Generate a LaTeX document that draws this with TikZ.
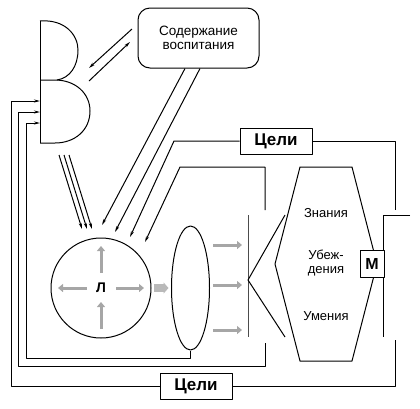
\documentclass[tikz,border=0pt]{standalone}
\usepackage{fontspec}
\setmainfont{Liberation Sans}
\usetikzlibrary{arrows.meta,shapes.geometric}
\def\thinarrow{\draw[-{Stealth[length=6pt,width=3pt]}]}
\def\grayarrow{\draw[color=gray!70, line width=3pt, -{Triangle[length=5pt,width=8pt]}]}
\def\goalnode{\node[draw,fill=white,font=\bfseries\fontsize{17}{17}\selectfont,minimum width=72pt,minimum height=26pt,inner sep=0pt]}

\begin{document}
\begin{tikzpicture}[x=1pt,y=-1pt,line width=1pt,line join=round]
\useasboundingbox (0,0) rectangle (420,408);
% boxes and shapes
\node[draw,rounded corners=12pt,minimum width=121pt,minimum height=60pt,align=center,font=\fontsize{13.5}{13.5}\selectfont] (content) at (198.5,38) {Содержание\\воспитания};
\goalnode (goaltop) at (276,141) {Цели};
\goalnode (goalbot) at (196,386.5) {Цели};
\node[draw,circle,minimum size=100pt,inner sep=0pt,font=\bfseries\fontsize{14}{14}\selectfont] (lich) at (101,288) {Л};
\node[draw,ellipse,minimum width=38pt,minimum height=124pt,inner sep=0pt] (oval) at (190.5,288) {};
\draw (40,21) -- (40,143);
\draw (40,21) .. controls (65,19) and (78,35) .. (78,50) .. controls (78,66) and (70,78) .. (57,80);
\draw (40,80) -- (55,80) .. controls (75,80) and (90,93) .. (90,111) .. controls (90,130) and (75,143) .. (55,143) -- (40,143);
\draw (300,167) -- (352,167) -- (377,264) -- (352,361) -- (300,361) -- (275,264) -- cycle;
\node[font=\fontsize{13}{13.5}\selectfont] (znan) at (326,213) {Знания};
\node[font=\fontsize{13}{13.5}\selectfont,align=center] (ubezh) at (326,263) {Убеж-\\дения};
\node[font=\fontsize{13}{13.5}\selectfont] (umen) at (326,316) {Умения};
% free ends
\coordinate (din1) at (40,101);
\coordinate (din2) at (40,112);
\coordinate (din3) at (40,123);
\coordinate (stubtop) at (265,210);
\coordinate (stubbot) at (265,343);
\coordinate (rtop) at (395,210);
\coordinate (rbot) at (395,340);
\coordinate (tip1) at (102,225);
\coordinate (tip2) at (115,232);
\coordinate (tip3) at (130,237);
\coordinate (tip4) at (145,242);
% arrows between D and content
\thinarrow (132,29) -- (89,68);
\thinarrow (89,81) -- (130,42);
\foreach \d in {0,5,10}
  \thinarrow (59+\d,155) -- (82+\d,229);
\thinarrow ([xshift=-13.5pt]content.south) -- (tip1);
\thinarrow ([xshift=1.5pt]content.south) -- (tip2);
% feedback lines
\thinarrow (goaltop.west) -- (174,141) -- (tip3);
\thinarrow (stubtop) -- (265,167) -- (180,167) -- (tip4);
\draw (goaltop.east) -| (rtop);
\draw (goalbot.east) -| (rbot);
\thinarrow (goalbot.west) -| (11,101) -- (din1);
\thinarrow (stubbot) -- (265,366) -| (18,112) -- (din2);
\thinarrow (oval.south) -- (190.5,358) -| (26,123) -- (din3);
% gray arrows
\grayarrow (101,329) -- (101,302);
\grayarrow (101,273) -- (101,246);
\grayarrow (87,288) -- (58,288);
\grayarrow (116,288) -- (144,288);
\draw[color=gray!55, line width=8pt, -{Triangle[length=5pt,width=11pt]}, shorten <=2pt, shorten >=2.5pt] (lich) -- (oval);
\foreach \y in {245,285,330}
  \grayarrow (213,\y) -- (242,\y);
% bracket
\draw[black!70] (248,215) -- (248,337);
\draw (285,215) -- (248,280) -- (285,337);
\draw (410,215) -- (383,215) -- (383,337);
\node[draw,fill=white,font=\bfseries\fontsize{16}{16}\selectfont,minimum width=24pt,minimum height=27pt,inner sep=0pt] (motiv) at (372,263.5) {М};
\end{tikzpicture}
\end{document}
